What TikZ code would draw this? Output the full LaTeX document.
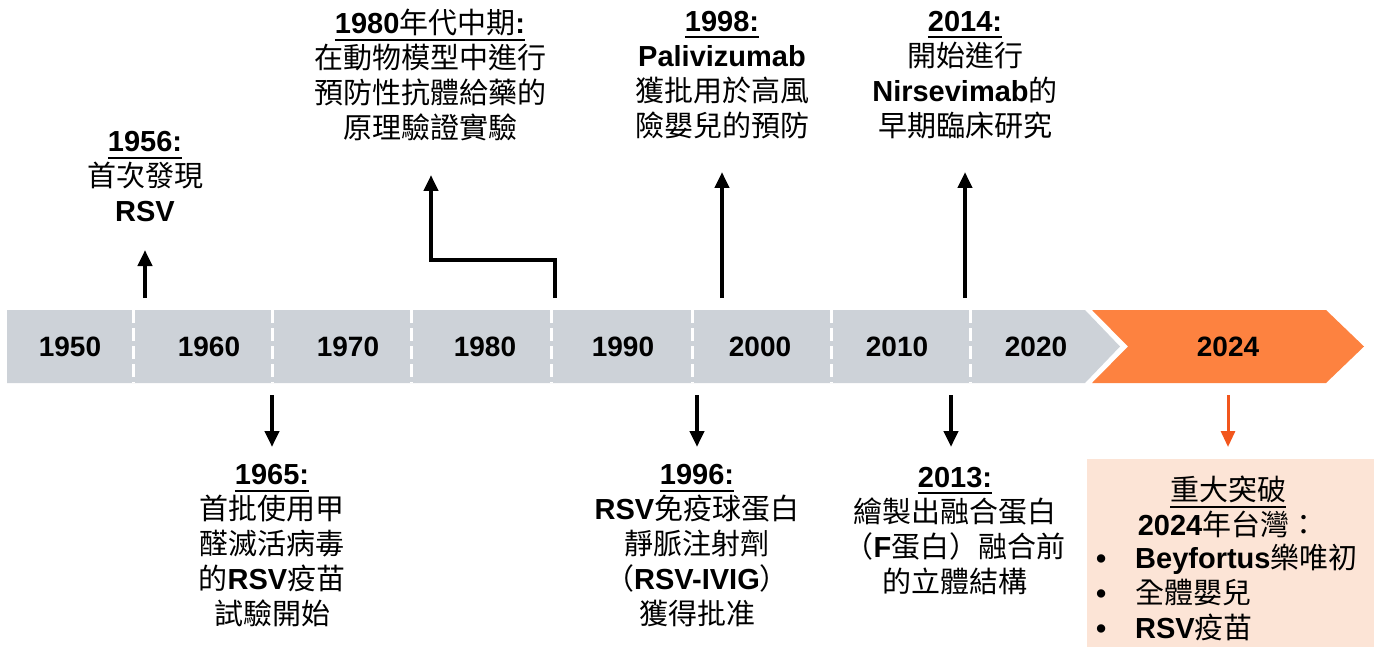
\documentclass[tikz,border=0pt]{standalone}
\usepackage{fontspec}
\setmainfont{Noto Sans CJK TC}
\newfontfamily\latf{Liberation Sans}
\usetikzlibrary{arrows.meta}
\definecolor{bargray}{HTML}{CDD2D8}
\definecolor{barorange}{HTML}{FD8240}
\definecolor{arrorange}{HTML}{F2561D}
\definecolor{boxfill}{HTML}{FCE4D6}
\newcommand\EN[1]{{\latf\bfseries #1}}
\newcommand\myul[1]{\setbox0\hbox{#1}\rlap{\copy0}\rule[-7pt]{\wd0}{2pt}}
\begin{document}
\begin{tikzpicture}[x=1pt,y=-1pt,
  lbl/.style={align=center,inner sep=0pt,font=\fontsize{29}{35}\selectfont},
  yr/.style={inner sep=0pt,font=\fontsize{28}{34}\selectfont\latf\bfseries},
  arr/.style={line width=4pt,miter limit=10,-{Triangle[length=16pt,width=14pt]}},
  oarr/.style={arrorange,line width=3pt,-{Triangle[length=16pt,width=14pt]}},
  sep/.style={white,line width=3pt,dash pattern=on 13pt off 5pt}]
\useasboundingbox (0,0) rectangle (1381,647);
% bar
\fill[bargray] (7,310) -- (1085,310) -- (1120,346.5) -- (1085,383) -- (7,383) -- cycle;
\fill[barorange] (1092,310) -- (1326,310) -- (1364,346.5) -- (1326,383) -- (1092,383) -- (1128,346.5) -- cycle;
\foreach \x in {133,272,411,551,692,831,970} \draw[sep] (\x,310) -- (\x,383);
% years
\node[yr] (y1950) at (70,347) {1950};
\node[yr] (y1960) at (209,347) {1960};
\node[yr] (y1970) at (348,347) {1970};
\node[yr] (y1980) at (485,347) {1980};
\node[yr] (y1990) at (623,347) {1990};
\node[yr] (y2000) at (760,347) {2000};
\node[yr] (y2010) at (897,347) {2010};
\node[yr] (y2020) at (1036,347) {2020};
\node[yr] (y2024) at (1228,347) {2024};
% labels
\node[lbl] (l1956) at (145,177) {\myul{\EN{1956:}}\\首次發現\\\EN{RSV}};
\node[lbl] (l1965) at (272,546) {\myul{\EN{1965:}}\\首批使用甲\\醛滅活病毒\\的\EN{RSV}疫苗\\試驗開始};
\node[lbl] (l1980) at (430,75) {\myul{\EN{1980}年代中期\EN{:}}\\在動物模型中進行\\預防性抗體給藥的\\原理驗證實驗};
\node[lbl] (l1996) at (697,546) {\myul{\EN{1996:}}\\\EN{RSV}免疫球蛋白\\靜脈注射劑\\（\EN{RSV-IVIG}）\\獲得批准};
\node[lbl] (l1998) at (722,75) {\myul{\EN{1998:}}\\\EN{Palivizumab}\\獲批用於高風\\險嬰兒的預防};
\node[lbl] (l2013) at (955,531) {\myul{\EN{2013:}}\\繪製出融合蛋白\\（\EN{F}蛋白）融合前\\的立體結構};
\node[lbl] (l2014) at (965,75) {\myul{\EN{2014:}}\\開始進行\\\EN{Nirsevimab}的\\早期臨床研究};
% box
\node[fill=boxfill,minimum width=287pt,minimum height=190pt,anchor=north west,inner sep=0pt] (box) at (1087,459) {};
\node[lbl] (bhead) at (1228,507) {\myul{重大突破}\\\EN{2024}年台灣：};
\node[lbl,align=left,anchor=west] (blist) at (1096,592) {\makebox[39pt][l]{\EN{•}}\EN{Beyfortus}樂唯初\\\makebox[39pt][l]{\EN{•}}全體嬰兒\\\makebox[39pt][l]{\EN{•}}\EN{RSV}疫苗};
% arrows
\coordinate (s1956) at (145,298); \coordinate (e1956) at (145,250);
\coordinate (s1980) at (555,298); \coordinate (e1980) at (431,175);
\coordinate (s1998) at (722,298); \coordinate (e1998) at (722,172);
\coordinate (s2014) at (965,298); \coordinate (e2014) at (965,172);
\coordinate (s1965) at (272,395); \coordinate (e1965) at (272,447);
\coordinate (s1996) at (697,395); \coordinate (e1996) at (697,447);
\coordinate (s2013) at (951,395); \coordinate (e2013) at (951,447);
\coordinate (s2024) at (1228,395); \coordinate (e2024) at (1228,447);
\draw[arr] (s1956) -- (e1956);
\draw[arr] (s1980) -- ++(0,-38) -| (e1980);
\draw[arr] (s1998) -- (e1998);
\draw[arr] (s2014) -- (e2014);
\draw[arr] (s1965) -- (e1965);
\draw[arr] (s1996) -- (e1996);
\draw[arr] (s2013) -- (e2013);
\draw[oarr] (s2024) -- (e2024);
\end{tikzpicture}
\end{document}
